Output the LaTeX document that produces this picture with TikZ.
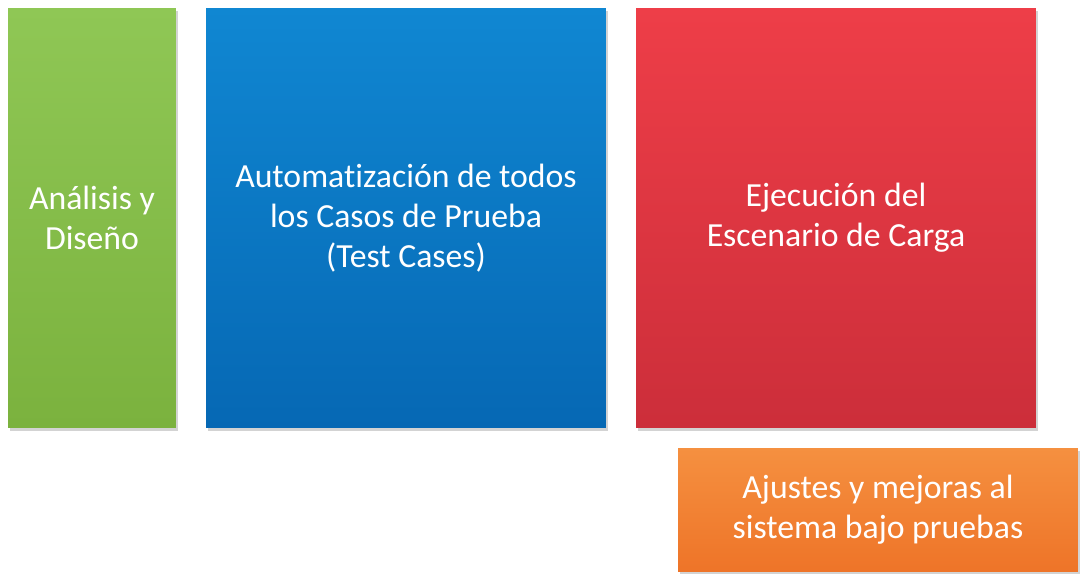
\documentclass[tikz,border=0pt]{standalone}
\usepackage{fontspec}
\setmainfont[Ligatures={NoCommon}]{Carlito}
\usetikzlibrary{shadows}

\definecolor{verde}{HTML}{8FC755}
\definecolor{verdeosc}{HTML}{7BB23E}
\definecolor{azul}{HTML}{1087D2}
\definecolor{azulosc}{HTML}{0668B4}
\definecolor{rojo}{HTML}{EE3E48}
\definecolor{rojoosc}{HTML}{CC2E3A}
\definecolor{naranja}{HTML}{F59040}
\definecolor{naranjaosc}{HTML}{EE7428}

\begin{document}
\begin{tikzpicture}[x=0.02cm,y=-0.02cm]
					\tikzstyle{caja}=[rectangle,draw=none,text=white,align=center,inner sep=0pt,font=\fontsize{19.2}{22.8}\selectfont,drop shadow={shadow xshift=1pt,shadow yshift=-1.5pt,opacity=0.35}]
					\useasboundingbox (0,0) rectangle (1084,574);
					\node[caja,top color=verde,bottom color=verdeosc,minimum width=3.36cm,minimum height=8.4cm] (1) at (92,218) {Análisis y\\Diseño};
					\node[caja,top color=azul,bottom color=azulosc,minimum width=8cm,minimum height=8.4cm] (2) at (406,218) {Automatización de todos\\los Casos de Prueba\\(Test Cases)};
					\node[caja,top color=rojo,bottom color=rojoosc,minimum width=8cm,minimum height=8.4cm] (3) at (836,218) {Ejecución del\\Escenario de Carga};
					\node[caja,top color=naranja,bottom color=naranjaosc,minimum width=8cm,minimum height=2.48cm] (4) at (878,510) {Ajustes y mejoras al\\sistema bajo pruebas};
					\end{tikzpicture}
\end{document}
